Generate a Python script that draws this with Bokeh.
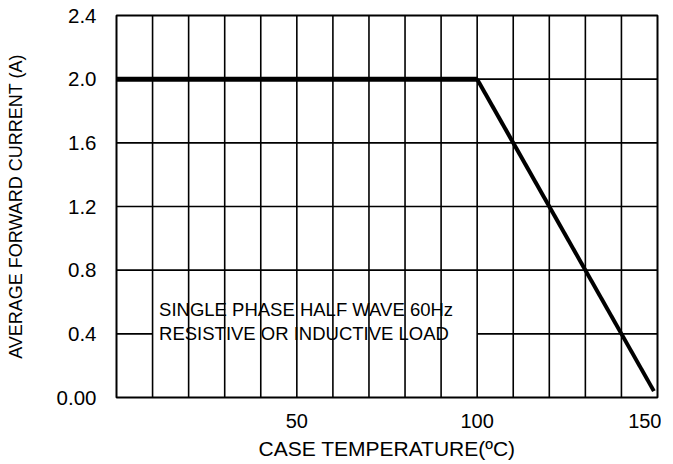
from bokeh.plotting import figure
from bokeh.models import Range1d, FixedTicker
from bokeh.core.properties import value
from bokeh.embed import file_html
from bokeh.resources import INLINE

# ---- data ----
x_ticks = [50, 100, 150]
y_ticks = [0.0, 0.4, 0.8, 1.2, 1.6, 2.0, 2.4]
y_tick_labels = ["0.00", "0.4", "0.8", "1.2", "1.6", "2.0", "2.4"]
grid_x = [10, 20, 30, 40, 50, 60, 70, 80, 90, 100, 110, 120, 130, 140]
grid_y = [0.4, 0.8, 1.2, 1.6, 2.0]
flat_x = [0, 100]
flat_y = [2.0, 2.0]
slope_x = [100, 149]
slope_y = [2.0, 0.04]
note_lines = ["SINGLE PHASE HALF WAVE  60Hz", "RESISTIVE OR INDUCTIVE LOAD"]
note_x = [11.8, 11.8]
note_y = [0.553, 0.402]

FONT = "Liberation Sans"

p = figure(frame_width=541, frame_height=382,
           min_border_left=116, min_border_top=15, min_border_right=4, min_border_bottom=55,
           x_range=Range1d(0, 150), y_range=Range1d(0, 2.4),
           output_backend="svg", toolbar_location=None)

p.xgrid.visible = False
p.ygrid.visible = False
p.outline_line_color = "black"
p.outline_line_width = 2
p.background_fill_color = "white"
p.border_fill_color = "white"

# horizontal grid lines (under the note box)
p.segment(x0=[0] * len(grid_y), x1=[150] * len(grid_y), y0=grid_y, y1=grid_y,
          line_color="black", line_width=1.6)

# white box behind note
p.quad(left=[10], right=[100], bottom=[0.3], top=[0.7],
       fill_color="white", line_color=None)

# note text
p.text(x=note_x, y=note_y, text=note_lines, text_font=value(FONT),
       text_font_size="18.5px", text_color="black", text_baseline="alphabetic",
       text_align="left")

# vertical grid lines (on top of the note)
p.segment(x0=grid_x, x1=grid_x, y0=[0] * len(grid_x), y1=[2.4] * len(grid_x),
          line_color="black", line_width=1.6)

# derating curve
p.line(flat_x, flat_y, line_color="black", line_width=5)
p.line(slope_x, slope_y, line_color="black", line_width=4)

# axes
for ax in (p.xaxis[0], p.yaxis[0]):
    ax.axis_line_color = None
    ax.major_tick_line_color = None
    ax.minor_tick_line_color = None
    ax.major_label_text_font = FONT
    ax.major_label_text_color = "black"
    ax.axis_label_text_font = FONT
    ax.axis_label_text_font_style = "normal"
    ax.axis_label_text_color = "black"

p.xaxis.ticker = FixedTicker(ticks=x_ticks)
p.xaxis.major_label_text_font_size = "20px"
p.xaxis.major_label_standoff = 10
p.xaxis.axis_label = "CASE TEMPERATURE(ºC)"
p.xaxis.axis_label_text_font_size = "21px"
p.xaxis.axis_label_standoff = 6

p.yaxis.ticker = FixedTicker(ticks=y_ticks)
p.yaxis.major_label_overrides = {t: l for t, l in zip(y_ticks, y_tick_labels)}
p.yaxis.major_label_text_font_size = "20.5px"
p.yaxis.major_label_standoff = 14
p.yaxis.axis_label = "AVERAGE FORWARD CURRENT (A)"
p.yaxis.axis_label_text_font_size = "18px"
p.yaxis.axis_label_standoff = 28

open("out.html", "w").write(file_html(p, INLINE))
